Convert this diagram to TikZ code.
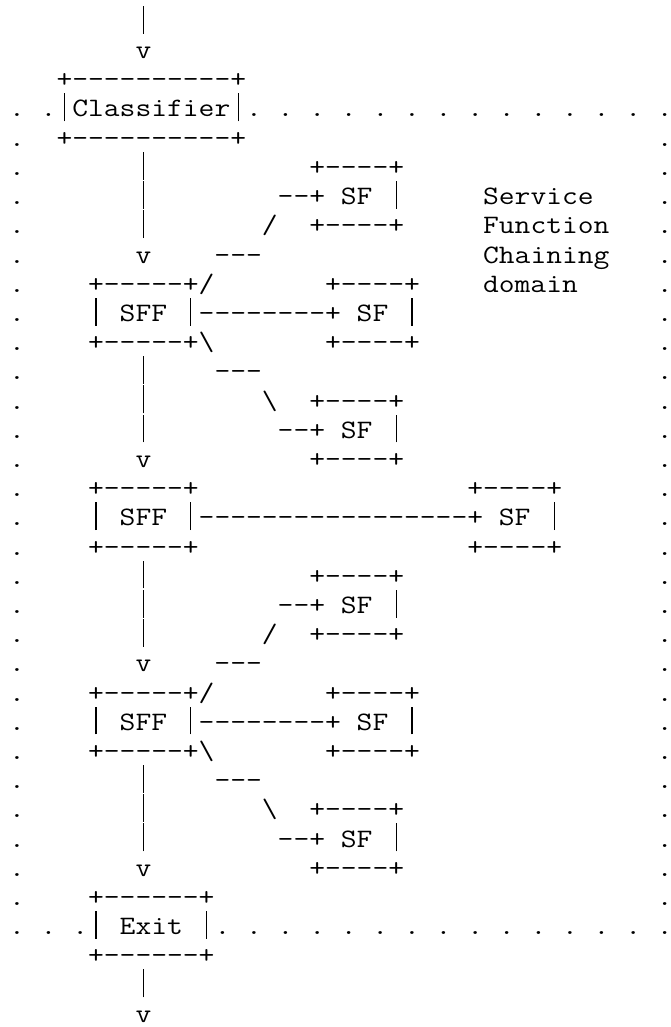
\documentclass[tikz,border=0pt]{standalone}
\usepackage{fontspec}
\usepackage{graphicx}
\ExplSyntaxOn
\NewDocumentCommand\dashrun{m}{\prg_replicate:nn{#1}{-\kern0pt}}
\ExplSyntaxOff
\newcommand\colskip[1]{\kern#1\fontcharwd\font`x\relax}
\newcommand\bs{\textbackslash}
\newcommand\edgedot{\rlap{.}}
\newcommand\vbarchar{\hbox to\fontcharwd\font`x{\hss\vrule width0.042em height0.89em depth0.16em\hss}}
\newdimen\asccw
\newcommand\ascline[1]{\asccw=\fontcharwd\font`x\relax\pgfmathsetmacro\ascsx{15.8/\asccw}\scalebox{\ascsx}[1]{#1}}
\tikzset{asciirow/.style={anchor=base west, inner sep=0pt, outer sep=0pt, text=black,
  font=\ttfamily\fontsize{26.6}{30}\selectfont}}
\newcommand\putrow[2]{\node[asciirow] (r#1) at (9.1,{-29.4-(#1-1)*29.2}) {\ascline{#2}};}
\begin{document}
\begin{tikzpicture}[x=1pt,y=1pt]
\fill[white] (0,0) rectangle (671,-1027);
\useasboundingbox (0,0) rectangle (671,-1027);
\putrow{1}{\colskip{8}\vbarchar}
\putrow{2}{\colskip{8}v}
\putrow{3}{\colskip{3}+\dashrun{10}+}
\putrow{4}{.~.\vbarchar Classifier\vbarchar.~.~.~.~.~.~.~.~.~.~.~.~.~\edgedot}
\putrow{5}{.\colskip{2}+\dashrun{10}+\colskip{26}\edgedot}
\putrow{6}{.\colskip{7}\vbarchar\colskip{10}+\dashrun{4}+\colskip{16}\edgedot}
\putrow{7}{.\colskip{7}\vbarchar\colskip{8}\dashrun{2}+~SF~\vbarchar\colskip{5}Service\colskip{4}\edgedot}
\putrow{8}{.\colskip{7}\vbarchar\colskip{7}/\colskip{2}+\dashrun{4}+\colskip{5}Function\colskip{3}\edgedot}
\putrow{9}{.\colskip{7}v\colskip{4}\dashrun{3}\colskip{14}Chaining\colskip{3}\edgedot}
\putrow{10}{.\colskip{4}+\dashrun{5}+/\colskip{7}+\dashrun{4}+\colskip{4}domain\colskip{5}\edgedot}
\putrow{11}{.\colskip{4}\vbarchar~SFF~\vbarchar\dashrun{8}+~SF~\vbarchar\colskip{15}\edgedot}
\putrow{12}{.\colskip{4}+\dashrun{5}+\bs\colskip{7}+\dashrun{4}+\colskip{15}\edgedot}
\putrow{13}{.\colskip{7}\vbarchar\colskip{4}\dashrun{3}\colskip{25}\edgedot}
\putrow{14}{.\colskip{7}\vbarchar\colskip{7}\bs\colskip{2}+\dashrun{4}+\colskip{16}\edgedot}
\putrow{15}{.\colskip{7}\vbarchar\colskip{8}\dashrun{2}+~SF~\vbarchar\colskip{16}\edgedot}
\putrow{16}{.\colskip{7}v\colskip{10}+\dashrun{4}+\colskip{16}\edgedot}
\putrow{17}{.\colskip{4}+\dashrun{5}+\colskip{17}+\dashrun{4}+\colskip{6}\edgedot}
\putrow{18}{.\colskip{4}\vbarchar~SFF~\vbarchar\dashrun{17}+~SF~\vbarchar\colskip{6}\edgedot}
\putrow{19}{.\colskip{4}+\dashrun{5}+\colskip{17}+\dashrun{4}+\colskip{6}\edgedot}
\putrow{20}{.\colskip{7}\vbarchar\colskip{10}+\dashrun{4}+\colskip{16}\edgedot}
\putrow{21}{.\colskip{7}\vbarchar\colskip{8}\dashrun{2}+~SF~\vbarchar\colskip{16}\edgedot}
\putrow{22}{.\colskip{7}\vbarchar\colskip{7}/\colskip{2}+\dashrun{4}+\colskip{16}\edgedot}
\putrow{23}{.\colskip{7}v\colskip{4}\dashrun{3}\colskip{25}\edgedot}
\putrow{24}{.\colskip{4}+\dashrun{5}+/\colskip{7}+\dashrun{4}+\colskip{15}\edgedot}
\putrow{25}{.\colskip{4}\vbarchar~SFF~\vbarchar\dashrun{8}+~SF~\vbarchar\colskip{15}\edgedot}
\putrow{26}{.\colskip{4}+\dashrun{5}+\bs\colskip{7}+\dashrun{4}+\colskip{15}\edgedot}
\putrow{27}{.\colskip{7}\vbarchar\colskip{4}\dashrun{3}\colskip{25}\edgedot}
\putrow{28}{.\colskip{7}\vbarchar\colskip{7}\bs\colskip{2}+\dashrun{4}+\colskip{16}\edgedot}
\putrow{29}{.\colskip{7}\vbarchar\colskip{8}\dashrun{2}+~SF~\vbarchar\colskip{16}\edgedot}
\putrow{30}{.\colskip{7}v\colskip{10}+\dashrun{4}+\colskip{16}\edgedot}
\putrow{31}{.\colskip{4}+\dashrun{6}+\colskip{28}\edgedot}
\putrow{32}{.~.~.\vbarchar~Exit~\vbarchar.~.~.~.~.~.~.~.~.~.~.~.~.~.~\edgedot}
\putrow{33}{\colskip{5}+\dashrun{6}+}
\putrow{34}{\colskip{8}\vbarchar}
\putrow{35}{\colskip{8}v}
\end{tikzpicture}
\end{document}
